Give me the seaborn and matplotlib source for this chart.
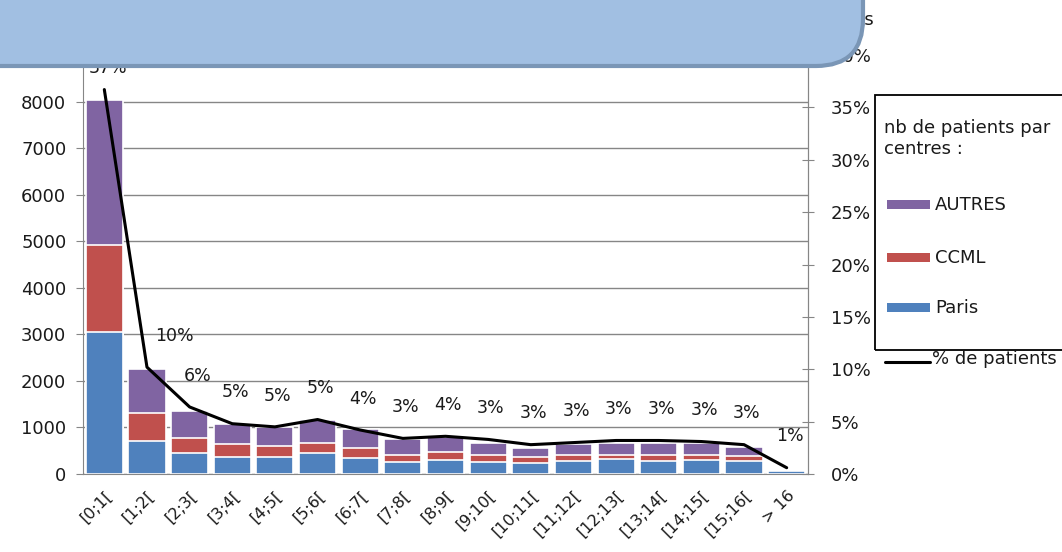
import numpy as np
import pandas as pd
import seaborn as sns
from matplotlib import pyplot as plt
from matplotlib.patches import Rectangle, FancyBboxPatch
from matplotlib.lines import Line2D

sns.set_style("white")
plt.rcParams['font.family'] = ['DejaVu Sans']

# data
categories = ["[0;1[", "[1;2[", "[2;3[", "[3;4[", "[4;5[", "[5;6[", "[6;7[", "[7;8[",
              "[8;9[", "[9;10[", "[10;11[", "[11;12[", "[12;13[", "[13;14[",
              "[14;15[", "[15;16[", "> 16"]
paris = [3050, 710, 450, 365, 365, 450, 340, 265, 300, 265, 245, 280, 315, 280, 300, 280, 70]
ccml = [1870, 600, 320, 280, 235, 220, 225, 145, 180, 145, 115, 130, 95, 130, 110, 105, 0]
autres = [3110, 950, 580, 430, 410, 490, 400, 335, 310, 250, 190, 235, 250, 250, 250, 200, 0]
pct = [36.7, 10.2, 6.4, 4.8, 4.5, 5.2, 4.2, 3.4, 3.6, 3.3, 2.8, 3.0, 3.2, 3.2, 3.1, 2.8, 0.6]
pct_labels = ["37%", "10%", "6%", "5%", "5%", "5%", "4%", "3%", "4%", "3%", "3%",
              "3%", "3%", "3%", "3%", "3%", "1%"]

c_paris = "#4F81BD"
c_ccml = "#C0504D"
c_autres = "#8064A2"
grey = "#868686"
txt = "#1a1a1a"

df = pd.DataFrame({"cat": categories, "Paris": paris, "CCML": ccml, "AUTRES": autres})
df["top_ccml"] = df["Paris"] + df["CCML"]
df["top_all"] = df["top_ccml"] + df["AUTRES"]

W, H = 1062, 552
fig = plt.figure(figsize=(W / 100, H / 100), dpi=100)
ax = fig.add_axes([83 / W, 1 - 474 / H, (808 - 83) / W, (474 - 55) / H])

# stacked bars: draw cumulative tops, largest first
for col, c in [("top_all", c_autres), ("top_ccml", c_ccml), ("Paris", c_paris)]:
    sns.barplot(data=df, x="cat", y=col, color=c, width=0.87, saturation=1,
                edgecolor="white", linewidth=1.2, ax=ax)

ax.set_xlim(-0.5, len(categories) - 0.5)
ax.set_ylim(0, 9000)
ax.set_yticks(range(0, 9000, 1000))
ax.set_xlabel("")
ax.set_ylabel("")
ax.set_axisbelow(True)
ax.yaxis.grid(True, color=grey, linewidth=1)
for s in ["left", "bottom", "right"]:
    ax.spines[s].set_color(grey)
ax.spines["top"].set_visible(False)
ax.tick_params(axis="y", direction="out", length=5, color=grey, labelsize=13,
               labelcolor=txt, pad=7)
ax.set_xticks(np.arange(len(categories)))
ax.set_xticklabels(categories, rotation=45, ha="right", rotation_mode="anchor",
                   fontsize=11.5, color=txt)
ax.set_xticks(np.arange(len(categories) + 1) - 0.5, minor=True)
ax.tick_params(axis="x", which="major", length=0, pad=10)
ax.tick_params(axis="x", which="minor", length=6, color=grey, direction="out")

# percentage line on the right axis
ax2 = ax.twinx()
sns.lineplot(x=np.arange(len(categories)), y=pct, color="black", linewidth=2.2, ax=ax2)
ax2.set_xlim(-0.5, len(categories) - 0.5)
ax2.set_ylim(0, 40)
ax2.set_yticks(range(0, 41, 5))
ax2.set_yticklabels([f"{v}%" for v in range(0, 41, 5)])
ax2.tick_params(axis="y", direction="inout", length=9, color=grey, labelsize=13,
                labelcolor=txt, pad=12)
for s in ["left", "top", "bottom"]:
    ax2.spines[s].set_visible(False)
ax2.spines["right"].set_color(grey)

offsets = {0: (3, 9), 1: (20, 16), 2: (6, 16)}
for i, (v, lab) in enumerate(zip(pct, pct_labels)):
    ax2.annotate(lab, (i, v), xytext=offsets.get(i, (2, 16)), textcoords="offset points",
                 ha="center", va="bottom", fontsize=12.5, color=txt)

# right axis title, mostly hidden by the shape on top
fig.text(874 / W, 1 - 20 / H, "% de patients", ha="right", va="center", fontsize=13,
         color=txt)

# legend box drawn by hand (overflows on the right like the original)
fig.patches.append(Rectangle((875 / W, 1 - 350 / H), 200 / W, 255 / H,
                             transform=fig.transFigure, fill=False, edgecolor="black",
                             linewidth=1.3))
fig.text(884 / W, 1 - 119 / H, "nb de patients par\ncentres :", ha="left", va="top",
         fontsize=13, color=txt, linespacing=1.2)
for name, c, yy in [("AUTRES", c_autres, 205), ("CCML", c_ccml, 258), ("Paris", c_paris, 308)]:
    fig.patches.append(Rectangle((887 / W, 1 - (yy + 4) / H), 43 / W, 9 / H,
                                 transform=fig.transFigure, facecolor=c, edgecolor="none"))
    fig.text(935 / W, 1 - yy / H, name, ha="left", va="center", fontsize=13, color=txt)
fig.lines.append(Line2D([885 / W, 930 / W], [1 - 362 / H, 1 - 362 / H],
                        transform=fig.transFigure, color="black", linewidth=2.2))
fig.text(932 / W, 1 - 359 / H, "% de patients", ha="left", va="center", fontsize=13,
         color=txt)

# blue rounded shape covering the top of the chart
shape = FancyBboxPatch((-60, H - 66), 923, 140,
                       boxstyle="round,pad=0,rounding_size=47",
                       transform=None, facecolor="#A1BFE2", edgecolor="#7A96B6",
                       linewidth=3, zorder=10)
fig.patches.append(shape)

fig.savefig("out.png", dpi=100)
